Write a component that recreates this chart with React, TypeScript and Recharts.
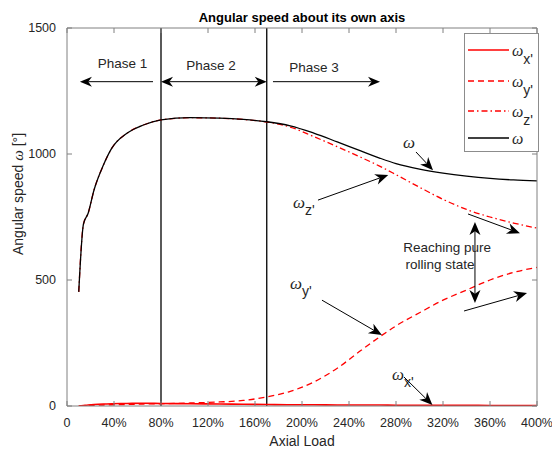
import React from 'react';
import { LineChart, Line, XAxis, YAxis, ReferenceLine, ReferenceDot, Legend } from 'recharts';

// ---- data ----
const loads = [10, 14, 18, 23, 31, 38, 51, 65, 80, 105, 130, 150, 170, 190, 210, 230, 250, 266, 280, 300, 320, 340, 360, 380, 400];
const omegaX = [0, 2, 4, 6, 8, 9, 10, 11, 10, 9, 8, 7, 6, 5, 5, 4, 4, 4, 3, 3, 3, 3, 2, 2, 2];
const omegaY = [0, 1, 2, 3, 4, 5, 6, 8, 9, 12, 16, 22, 36, 58, 95, 150, 220, 274, 318, 370, 420, 460, 500, 530, 550];
const omegaZ = [453, 722, 765, 857, 956, 1022, 1082, 1115, 1135, 1144, 1142, 1137, 1127, 1107, 1069, 1029, 987, 952, 918, 868, 820, 780, 750, 726, 706];
const omega = [453, 722, 765, 857, 956, 1022, 1082, 1115, 1135, 1144, 1142, 1137, 1128, 1112, 1083, 1048, 1012, 984, 962, 940, 924, 912, 903, 897, 893];

const xTicks = [0, 40, 80, 120, 160, 200, 240, 280, 320, 360, 400];
const yTicks = [0, 500, 1000, 1500];
const phaseBounds = [80, 170];

const titleText = 'Angular speed about its own axis';
const titlePos = { x: 200, y: 1500 };

const phaseLabels = [
  { text: 'Phase 1', x: 47.2, y: 1361 },
  { text: 'Phase 2', x: 122.6, y: 1353 },
  { text: 'Phase 3', x: 210.2, y: 1345 },
];
// arrows: from (x1,y1) to (x2,y2), both = double headed
const arrows = [
  { x1: 73.2, y1: 1287, x2: 11, y2: 1287, both: false, L: 12, W: 5 },
  { x1: 80, y1: 1287, x2: 170, y2: 1287, both: true, L: 12, W: 5 },
  { x1: 175.3, y1: 1287, x2: 266.4, y2: 1287, both: false, L: 12, W: 5 },
  { x1: 297, y1: 1008, x2: 311.5, y2: 936, both: false, L: 13, W: 5.5 },
  { x1: 213.6, y1: 817, x2: 273.4, y2: 917, both: false, L: 13, W: 5.5 },
  { x1: 217, y1: 420, x2: 268, y2: 282, both: false, L: 13, W: 5.5 },
  { x1: 286.8, y1: 115, x2: 311, y2: 4, both: false, L: 13, W: 5.5 },
  { x1: 347.2, y1: 730, x2: 347.2, y2: 409, both: true, L: 13, W: 5.5 },
  { x1: 341.3, y1: 762, x2: 385.5, y2: 686, both: false, L: 13, W: 5.5 },
  { x1: 337.9, y1: 377, x2: 391.5, y2: 448, both: false, L: 13, W: 5.5 },
];
const omegaLabels = [
  { sub: '', x: 286, y: 1048 },
  { sub: "z'", x: 192.3, y: 810 },
  { sub: "y'", x: 189.8, y: 488 },
  { sub: "x'", x: 276.6, y: 127 },
];
const noteLines = [
  { text: 'Reaching pure', x: 323.5, y: 627 },
  { text: 'rolling state', x: 317.4, y: 560 },
];

const legendItems = [
  { sub: "x'", color: '#ff0000', dash: undefined as string | undefined },
  { sub: "y'", color: '#ff0000', dash: '6 4' },
  { sub: "z'", color: '#ff0000', dash: '6 3 1.5 3' },
  { sub: '', color: '#000000', dash: undefined as string | undefined },
];

const data = loads.map((l, i) => ({ load: l, wx: omegaX[i], wy: omegaY[i], wz: omegaZ[i], w: omega[i] }));

const FONT = "'Liberation Sans', Arial, Helvetica, sans-serif";
const GREEK = "'Liberation Serif', 'DejaVu Serif', serif";
const TXT = '#262626';
const AX = '#808080';

const arrowShape = (both: boolean, L: number, W: number) => (p: any) => {
  const { x1, y1, x2, y2 } = p;
  const dx = x2 - x1;
  const dy = y2 - y1;
  const len = Math.hypot(dx, dy) || 1;
  const ux = dx / len;
  const uy = dy / len;
  const nx = -uy;
  const ny = ux;
  const inset = L * 0.3;
  const head = (tx: number, ty: number, sx: number, sy: number) => {
    const pts = [
      [tx, ty],
      [tx - L * sx + W * nx, ty - L * sy + W * ny],
      [tx - (L - inset) * sx, ty - (L - inset) * sy],
      [tx - L * sx - W * nx, ty - L * sy - W * ny],
    ];
    return <polygon points={pts.map((q) => q.join(',')).join(' ')} fill="#000" stroke="none" />;
  };
  const sx = both ? x1 + (L - inset) * ux : x1;
  const sy = both ? y1 + (L - inset) * uy : y1;
  const ex = x2 - (L - inset) * ux;
  const ey = y2 - (L - inset) * uy;
  return (
    <g>
      <line x1={sx} y1={sy} x2={ex} y2={ey} stroke="#000" strokeWidth={1} />
      {head(x2, y2, ux, uy)}
      {both ? head(x1, y1, -ux, -uy) : null}
    </g>
  );
};

const omegaShape = (sub: string) => (p: any) => (
  <text x={p.cx} y={p.cy} dominantBaseline="central" fill={TXT}>
    <tspan fontFamily={GREEK} fontStyle="italic" fontSize={17}>ω</tspan>
    {sub ? (
      <tspan fontFamily={FONT} fontSize={14} dy={8}>{sub}</tspan>
    ) : null}
  </text>
);

const textShape = (t: string, size: number) => (p: any) => (
  <text x={p.cx} y={p.cy} textAnchor="middle" dominantBaseline="central" fontFamily={FONT} fontSize={size} fill={TXT}>
    {t}
  </text>
);

const titleShape = (p: any) => (
  <text x={p.cx} y={p.cy - 11} textAnchor="middle" dominantBaseline="central" fontFamily={FONT} fontWeight="bold" fontSize={13} fill="#000">
    {titleText}
  </text>
);

const blank = () => '';

const LegendBox = () => (
  <svg width={76} height={120} style={{ display: 'block' }}>
    <rect x={0.5} y={0.5} width={74} height={118} fill="#fff" stroke="#8c8c8c" strokeWidth={1} />
    {legendItems.map((it, i) => {
      const yy = [17, 48, 78, 105][i];
      return (
        <g key={i}>
          <line x1={4} x2={45} y1={yy} y2={yy} stroke={it.color} strokeWidth={1.3} strokeDasharray={it.dash} />
          <text x={48} y={yy} dominantBaseline="central" fill={TXT}>
            <tspan fontFamily={GREEK} fontStyle="italic" fontSize={16}>ω</tspan>
            {it.sub ? (
              <tspan fontFamily={FONT} fontSize={14} dy={9}>{it.sub}</tspan>
            ) : null}
          </text>
        </g>
      );
    })}
  </svg>
);

const XLabel = (p: any) => {
  const vb = p.viewBox || { x: 67, width: 470 };
  return (
    <text x={vb.x + vb.width / 2} y={441} textAnchor="middle" dominantBaseline="central" fontFamily={FONT} fontSize={14} fill={TXT}>
      Axial Load
    </text>
  );
};

const YLabel = () => (
  <text transform="translate(18,194) rotate(-90)" textAnchor="middle" dominantBaseline="central" fontFamily={FONT} fontSize={14} fill={TXT}>
    Angular speed <tspan fontFamily={GREEK} fontStyle="italic" fontSize={15}>ω</tspan> [°]
  </text>
);

export default function App() {
  return (
    <div style={{ position: 'absolute', left: 0, top: 0, width: 552, height: 450, background: '#fff' }}>
      <LineChart width={552} height={450} data={data} margin={{ top: 27, right: 14, bottom: 14, left: 7 }}>
        <XAxis
          dataKey="load"
          type="number"
          domain={[0, 400]}
          ticks={xTicks}
          allowDataOverflow
          tickFormatter={(v: number) => (v === 0 ? '0' : `${v}%`)}
          tickSize={-5}
          tickMargin={17}
          height={30}
          stroke={AX}
          tick={{ fill: TXT, fontSize: 12.5, fontFamily: FONT }}
          tickLine={{ stroke: AX }}
          axisLine={{ stroke: AX }}
          label={XLabel}
        />
        <XAxis
          xAxisId="t"
          orientation="top"
          dataKey="load"
          type="number"
          domain={[0, 400]}
          ticks={xTicks}
          interval={0}
          allowDataOverflow
          tickSize={-5}
          height={1}
          tickFormatter={blank}
          tick={{ fontSize: 1 }}
          tickLine={{ stroke: AX }}
          axisLine={{ stroke: AX }}
        />
        <YAxis
          type="number"
          domain={[0, 1500]}
          ticks={yTicks}
          allowDataOverflow
          tickSize={-5}
          tickMargin={16}
          width={60}
          tick={{ fill: TXT, fontSize: 12.5, fontFamily: FONT }}
          tickLine={{ stroke: AX }}
          axisLine={{ stroke: AX }}
          label={YLabel}
        />
        <YAxis
          yAxisId="r"
          orientation="right"
          type="number"
          domain={[0, 1500]}
          ticks={yTicks}
          interval={0}
          allowDataOverflow
          tickSize={-5}
          width={1}
          tickFormatter={blank}
          tick={{ fontSize: 1 }}
          tickLine={{ stroke: AX }}
          axisLine={{ stroke: AX }}
        />
        {phaseBounds.map((b) => (
          <ReferenceLine key={b} x={b} stroke="#000" strokeWidth={1.3} />
        ))}
        <Line dataKey="wx" type="monotone" stroke="#ff0000" strokeWidth={1.6} dot={false} isAnimationActive={false} />
        <Line dataKey="wy" type="monotone" stroke="#ff0000" strokeWidth={1.3} strokeDasharray="6 4" dot={false} isAnimationActive={false} />
        <Line dataKey="wz" type="monotone" stroke="#ff0000" strokeWidth={1.3} strokeDasharray="6 3 1.5 3" dot={false} isAnimationActive={false} />
        <Line dataKey="w" type="monotone" stroke="#000000" strokeWidth={1.3} dot={false} isAnimationActive={false} />
        {arrows.map((a, i) => (
          <ReferenceLine
            key={`a${i}`}
            segment={[{ x: a.x1, y: a.y1 }, { x: a.x2, y: a.y2 }]}
            stroke="#000"
            shape={arrowShape(a.both, a.L, a.W)}
            ifOverflow="visible"
          />
        ))}
        {phaseLabels.map((t, i) => (
          <ReferenceDot key={`p${i}`} x={t.x} y={t.y} r={0} shape={textShape(t.text, 13.5)} ifOverflow="visible" />
        ))}
        {noteLines.map((t, i) => (
          <ReferenceDot key={`n${i}`} x={t.x} y={t.y} r={0} shape={textShape(t.text, 13.5)} ifOverflow="visible" />
        ))}
        {omegaLabels.map((t, i) => (
          <ReferenceDot key={`o${i}`} x={t.x} y={t.y} r={0} shape={omegaShape(t.sub)} ifOverflow="visible" />
        ))}
        <ReferenceDot x={titlePos.x} y={titlePos.y} r={0} shape={titleShape} ifOverflow="visible" />
        <Legend
          layout="vertical"
          align="center"
          verticalAlign="middle"
          content={LegendBox}
          wrapperStyle={{ position: 'absolute', left: 464, top: 33, width: 76, height: 120 }}
        />
      </LineChart>
    </div>
  );
}
